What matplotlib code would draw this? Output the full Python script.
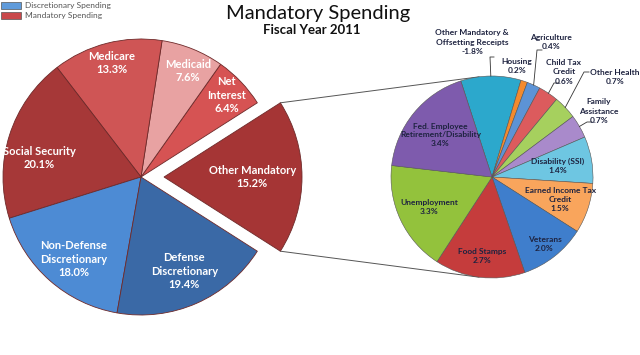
import numpy as np
import matplotlib
matplotlib.use("Agg")
import matplotlib.pyplot as plt
from matplotlib.patches import Rectangle

plt.rcParams['font.family'] = ['Lato', 'DejaVu Sans']

# ---------------- data ----------------
main_labels = ["Other Mandatory", "Net\nInterest", "Medicaid", "Medicare",
               "Social Security", "Non-Defense\nDiscretionary", "Defense\nDiscretionary"]
main_values = [15.2, 6.4, 7.6, 13.3, 20.1, 18.0, 19.4]

sub_labels = ["Other Mandatory &\nOffsetting Receipts", "Housing", "Agriculture",
              "Child Tax\nCredit", "Other Health", "Family\nAssistance",
              "Disability (SSI)", "Earned Income Tax\nCredit", "Veterans",
              "Food Stamps", "Unemployment", "Fed. Employee\nRetirement/Disability"]
sub_values = [-1.8, 0.2, 0.4, 0.6, 0.7, 0.7, 1.4, 1.5, 2.0, 2.7, 3.3, 3.4]

legend_labels = ["Discretionary Spending", "Mandatory Spending"]

# ---------------- styles ----------------
main_colors = ["#A53535", "#D65353", "#E8A2A2", "#CF5555", "#A63838", "#4D8BD4", "#3A69A6"]
sub_colors = ["#2CA8CC", "#F38A2E", "#5C93D6", "#DC5B5D", "#A6D05E", "#A98ACB",
              "#6EC6E2", "#F9A55C", "#3F7ECC", "#C53C3C", "#93C23C", "#7E5BAD"]
legend_colors = ["#5F9BDB", "#C9484A"]

W, H = 640, 355
fig = plt.figure(figsize=(6.4, 3.55), dpi=100)
ax = fig.add_axes([0, 0, 1, 1])

# main pie: like a pie-of-pie, the "Other" wedge is sized by the sum of |sub values|
wedge_sizes = [float(np.sum(np.abs(sub_values)))] + main_values[1:]
mc = (141, H - 177)
mr = 138
explode = [23] + [0] * (len(main_values) - 1)
half = 360 * wedge_sizes[0] / sum(wedge_sizes) / 2
wedges, _ = ax.pie(wedge_sizes, colors=main_colors, startangle=-half, counterclock=True,
                   explode=explode, center=mc, radius=mr, frame=True,
                   wedgeprops=dict(edgecolor="#6E2A2A", linewidth=0.6))
main_f = [0.64, 0.86, 0.84, 0.85, 0.75, 0.77, 0.75]
main_da = [0, 0, -2, 0, 7, 2, 1]
for w, lab, v, f, da in zip(wedges, main_labels, main_values, main_f, main_da):
    a = np.deg2rad((w.theta1 + w.theta2) / 2 + da)
    cx, cy = w.center
    ax.text(cx + mr * f * np.cos(a), cy + mr * f * np.sin(a), f"{lab}\n{v:.1f}%",
            ha='center', va='center', color='white', fontsize=8, fontweight='bold',
            linespacing=1.25)

# sub pie
sc = (492, H - 177)
sr = 101
sw, _ = ax.pie(np.abs(sub_values), colors=sub_colors, startangle=108, counterclock=False,
               center=sc, radius=sr, frame=True,
               wedgeprops=dict(edgecolor="#555555", linewidth=0.4))
ax.set_xlim(0, W)
ax.set_ylim(0, H)
ax.set_aspect('auto')
ax.axis('off')

dark = "#1E2340"
inside = {6: 0.66, 7: 0.71, 8: 0.84, 9: 0.79, 10: 0.69, 11: 0.66}
for i, f in inside.items():
    w = sw[i]
    a = np.deg2rad((w.theta1 + w.theta2) / 2)
    ax.text(sc[0] + sr * f * np.cos(a), sc[1] + sr * f * np.sin(a),
            f"{sub_labels[i]}\n{sub_values[i]:.1f}%", ha='center', va='center',
            color=dark, fontsize=6, fontweight='bold', linespacing=1.3)

# outside labels: text position (image px) and leader elbow
outside = {0: ((472, 42), (490, 57)),
           1: ((517, 66), None),
           2: ((551, 42), (537, 50)),
           3: ((564, 72), (554, 83)),
           4: ((615, 77), (584, 72)),
           5: ((599, 111), (587, 122))}
for i, ((tx, ty), elbow) in outside.items():
    ax.text(tx, H - ty, f"{sub_labels[i]}\n{sub_values[i]:.1f}%", ha='center', va='center',
            color=dark, fontsize=6, fontweight='bold', linespacing=1.35)
    if elbow is not None:
        w = sw[i]
        a = np.deg2rad((w.theta1 + w.theta2) / 2)
        px, py = sc[0] + sr * np.cos(a), sc[1] + sr * np.sin(a)
        ex, ey = elbow[0], H - elbow[1]
        hx = ex + (4 if i == 0 else 5)
        ax.plot([hx, ex, px], [ey, ey, py], color="#333333", lw=0.6)

# connector lines from exploded wedge to sub pie (tangent points)
ow = wedges[0]
ocx, ocy = ow.center
for th, sign in [(ow.theta2, -1), (ow.theta1, 1)]:
    px = ocx + mr * np.cos(np.deg2rad(th))
    py = ocy + mr * np.sin(np.deg2rad(th))
    dx, dy = px - sc[0], py - sc[1]
    d = np.hypot(dx, dy)
    ang = np.arctan2(dy, dx) + sign * np.arccos(sr / d)
    ax.plot([px, sc[0] + sr * np.cos(ang)], [py, sc[1] + sr * np.sin(ang)],
            color="#555555", lw=0.7, zorder=0)

# title
fig.text(318 / W, 1 - 13 / H, "Mandatory Spending", ha='center', va='center',
         fontsize=14.5, color="#111111")
fig.text(312 / W, 1 - 30 / H, "Fiscal Year 2011", ha='center', va='center',
         fontsize=9.5, fontweight='bold', color="#111111")

# legend
for k, (lab, col) in enumerate(zip(legend_labels, legend_colors)):
    y0 = H - 9 - k * 10
    ax.add_patch(Rectangle((1, y0), 20, 7, facecolor=col, edgecolor="#555555", lw=0.5))
    ax.text(25, y0 + 3.5, lab, ha='left', va='center', fontsize=6, color="#555555")

fig.savefig("out.png", dpi=100)
